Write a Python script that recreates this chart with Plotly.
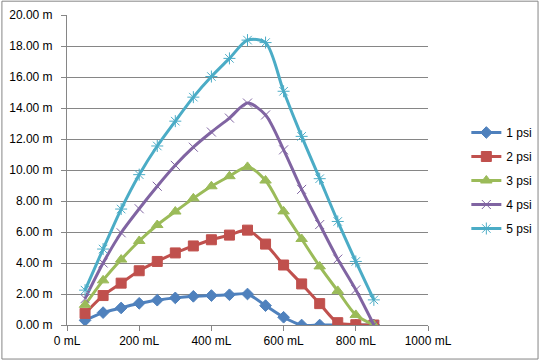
import plotly.graph_objects as go

volume_ml = [50, 100, 150, 200, 250, 300, 350, 400, 450, 500, 550, 600, 650, 700, 750, 800, 850]
psi1 = [0.30, 0.80, 1.10, 1.40, 1.60, 1.75, 1.85, 1.90, 1.95, 2.00, 1.25, 0.50, 0.00, 0.00, 0.00, 0.00, 0.00]
psi2 = [0.75, 1.90, 2.70, 3.50, 4.10, 4.65, 5.10, 5.50, 5.80, 6.12, 5.22, 3.87, 2.65, 1.38, 0.15, 0.02, 0.00]
psi3 = [1.30, 2.88, 4.22, 5.42, 6.45, 7.32, 8.17, 8.95, 9.60, 10.20, 9.32, 7.33, 5.55, 3.78, 2.20, 0.65, 0.00]
psi4 = [1.70, 4.00, 5.95, 7.50, 8.95, 10.30, 11.47, 12.45, 13.35, 14.32, 13.55, 11.30, 8.75, 6.48, 4.25, 2.27, 0.00]
psi5 = [2.25, 4.90, 7.48, 9.70, 11.55, 13.15, 14.70, 16.03, 17.20, 18.38, 18.22, 15.08, 12.17, 9.44, 6.68, 4.10, 1.62]

series_names = ["1 psi", "2 psi", "3 psi", "4 psi", "5 psi"]
series_values = [psi1, psi2, psi3, psi4, psi5]
colors = ["#4F81BD", "#C0504D", "#9BBB59", "#8064A2", "#4BACC6"]
symbols = ["diamond", "square", "triangle-up", "x-thin-open", "asterisk-open"]
sizes = [9, 10, 10, 9, 10]

fig = go.Figure()
for i, (name, vals) in enumerate(zip(series_names, series_values)):
    fig.add_trace(go.Scatter(
        x=volume_ml, y=vals, name=name, mode="lines+markers",
        line=dict(color=colors[i], width=3, shape="spline", smoothing=0.8),
        marker=dict(symbol=symbols[i], size=sizes[i], color=colors[i],
                    line=dict(color=colors[i], width=1)),
        legendgroup=name,
    ))

font = dict(family="Liberation Sans, Arial, sans-serif", size=12, color="#000000")
fig.update_layout(
    width=541, height=361,
    margin=dict(l=67, r=113, t=15, b=36, autoexpand=False),
    paper_bgcolor="white", plot_bgcolor="white",
    font=font,
    showlegend=True,
    legend=dict(xref="container", yref="container", x=0.862, y=0.50,
                xanchor="left", yanchor="middle",
                bgcolor="rgba(0,0,0,0)", tracegroupgap=5, itemwidth=30,
                font=font),
    xaxis=dict(range=[0, 1000], dtick=200, tick0=0, ticksuffix=" mL",
               showgrid=False, zeroline=False, showline=True, linecolor="#868686",
               linewidth=1, ticks="outside", ticklen=5, tickcolor="#868686",
               automargin=False),
    yaxis=dict(range=[0, 20], dtick=2, tick0=0, tickformat=".2f", ticksuffix=" m",
               showgrid=True, gridcolor="#868686", gridwidth=1, zeroline=False,
               showline=True, linecolor="#868686", linewidth=1,
               ticks="outside", ticklen=5, tickcolor="#868686",
               ticklabelstandoff=6, automargin=False),
    shapes=[dict(type="rect", xref="paper", yref="paper",
                 x0=-0.1803, x1=1.3048, y0=-0.1098, y1=1.0446,
                 line=dict(color="#868686", width=1), layer="below")],
)

fig.write_html("out.html", config={"displayModeBar": False},
               post_script="document.body.style.margin='0';document.body.style.overflow='hidden';")
